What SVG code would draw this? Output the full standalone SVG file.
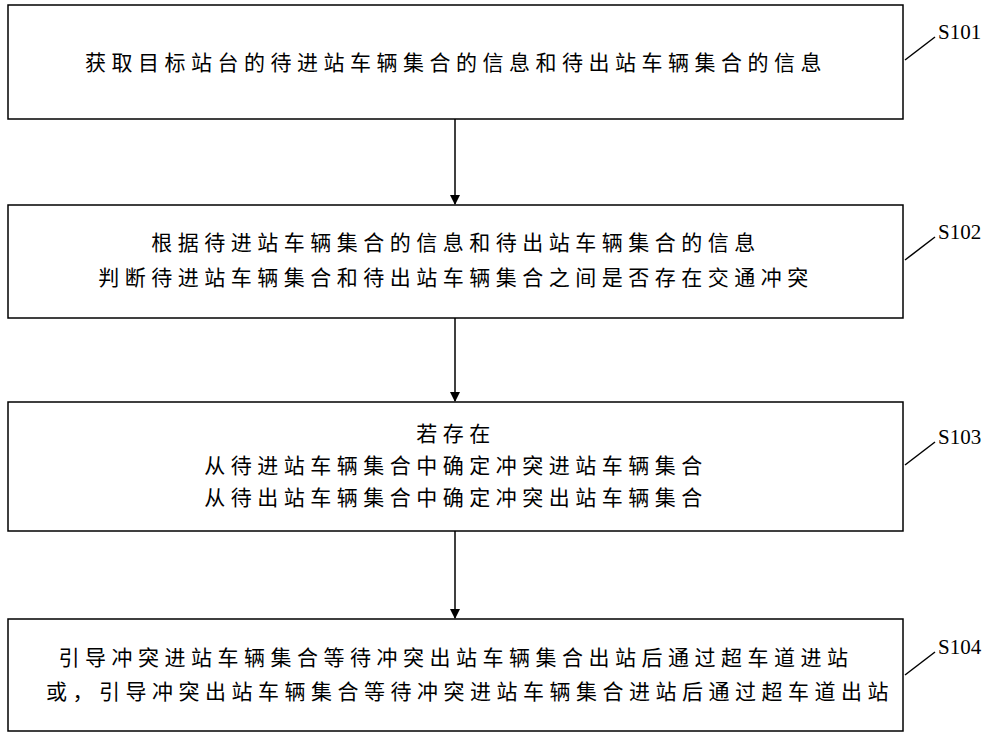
<svg xmlns="http://www.w3.org/2000/svg" width="1000" height="738" viewBox="0 0 1000 738">
<defs>
<style>
.box{fill:#fff;stroke:#000;stroke-width:1.5}
.t{font-family:"Liberation Serif","Noto Sans CJK SC",serif;font-size:21px;fill:#000;text-anchor:middle;letter-spacing:5.5px}
.lb{font-family:"Liberation Serif",serif;font-size:21px;fill:#000}
.ln{stroke:#000;stroke-width:1.5;fill:none}
</style>
<marker id="ah" markerWidth="10" markerHeight="10" refX="9" refY="5" orient="auto" markerUnits="userSpaceOnUse">
<path d="M0,0 L10,5 L0,10 Z" fill="#000"/>
</marker>
</defs>
<rect width="1000" height="738" fill="#fff"/>
<g id="n1">
<rect class="box" x="8" y="5" width="895" height="114"/>
<text class="t" x="456" y="70">获取目标站台的待进站车辆集合的信息和待出站车辆集合的信息</text>
<path class="ln" d="M905,60 L935,37"/><text class="lb" x="938" y="39">S101</text>
</g>
<g id="n2">
<rect class="box" x="8" y="205" width="895" height="113"/>
<text class="t" x="456" y="250">根据待进站车辆集合的信息和待出站车辆集合的信息</text>
<text class="t" x="456" y="285">判断待进站车辆集合和待出站车辆集合之间是否存在交通冲突</text>
<path class="ln" d="M905,260 L935,237"/><text class="lb" x="938" y="239">S102</text>
</g>
<g id="n3">
<rect class="box" x="8" y="402" width="895" height="129"/>
<text class="t" x="456" y="441">若存在</text>
<text class="t" x="456" y="473">从待进站车辆集合中确定冲突进站车辆集合</text>
<text class="t" x="456" y="505">从待出站车辆集合中确定冲突出站车辆集合</text>
<path class="ln" d="M905,465 L935,442"/><text class="lb" x="938" y="444">S103</text>
</g>
<g id="n4">
<rect class="box" x="8" y="619" width="895" height="112"/>
<text class="t" x="456" y="665">引导冲突进站车辆集合等待冲突出站车辆集合出站后通过超车道进站</text>
<text class="t" x="470" y="699">或，引导冲突出站车辆集合等待冲突进站车辆集合进站后通过超车道出站</text>
<path class="ln" d="M905,675 L935,652"/><text class="lb" x="938" y="654">S104</text>
</g>
<g id="connectors">
<path class="ln" d="M455,119 L455,204" marker-end="url(#ah)"/>
<path class="ln" d="M455,318 L455,401" marker-end="url(#ah)"/>
<path class="ln" d="M455,531 L455,618" marker-end="url(#ah)"/>
</g>
</svg>
